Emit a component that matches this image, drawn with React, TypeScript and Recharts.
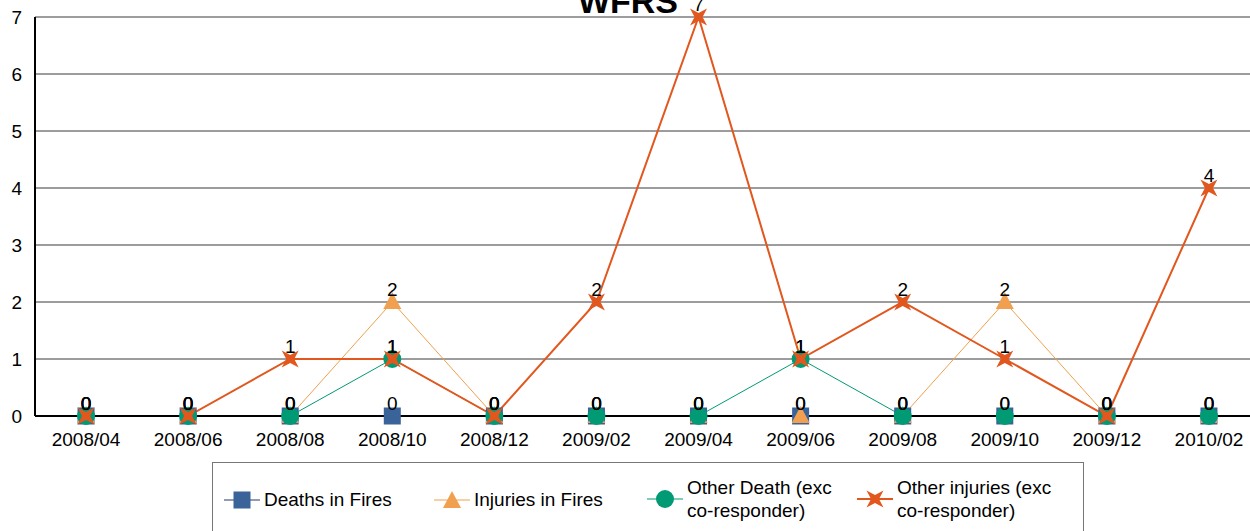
import { CartesianGrid, LabelList, Line, LineChart, XAxis, YAxis } from "recharts";

const months = [
  "2008/04", "2008/06", "2008/08", "2008/10", "2008/12", "2009/02",
  "2009/04", "2009/06", "2009/08", "2009/10", "2009/12", "2010/02",
];
const deathsInFires = [0, 0, 0, 0, 0, 0, 0, 0, 0, 0, 0, 0];
const injuriesInFires = [0, 0, 0, 2, 0, 0, 0, 0, 0, 2, 0, 0];
const otherDeath = [0, 0, 0, 1, 0, 0, 0, 1, 0, 0, 0, 0];
const otherInjuries = [0, 0, 1, 1, 0, 2, 7, 1, 2, 1, 0, 4];
const yTicks = [0, 1, 2, 3, 4, 5, 6, 7];

const seriesNames = [
  ["Deaths in Fires"],
  ["Injuries in Fires"],
  ["Other Death (exc", "co-responder)"],
  ["Other injuries (exc", "co-responder)"],
];

const data = months.map((month, i) => ({
  month,
  deaths: deathsInFires[i],
  injuries: injuriesInFires[i],
  otherDeath: otherDeath[i],
  otherInjuries: otherInjuries[i],
}));

const FONT = 'Arial, "Liberation Sans", sans-serif';
const BLUE = "#3A6399";
const BLUE_LINE = "#203A66";
const ORANGE = "#F0A04E";
const GREEN = "#009A74";
const RED = "#E2571E";

function starPath(cx: number, cy: number, R: number, r: number) {
  const pts: string[] = [];
  for (let k = 0; k < 8; k++) {
    const ang = (Math.PI / 4) * k - Math.PI / 2;
    const rad = k % 2 === 1 ? R : r;
    pts.push(`${cx + rad * Math.cos(ang)},${cy + rad * Math.sin(ang)}`);
  }
  return `M${pts.join("L")}Z`;
}

const square = (props: any) => (
  <rect key={`sq-${props.index}`} x={props.cx - 8.5} y={props.cy - 8.5} width={17} height={17} fill={BLUE} />
);
const triangle = (props: any) => (
  <path
    key={`tr-${props.index}`}
    d={`M${props.cx},${props.cy - 10}L${props.cx + 9},${props.cy + 7}L${props.cx - 9},${props.cy + 7}Z`}
    fill={ORANGE}
  />
);
const circle = (props: any) => <circle key={`ci-${props.index}`} cx={props.cx} cy={props.cy} r={9} fill={GREEN} />;
const star = (props: any) => (
  <path key={`st-${props.index}`} d={starPath(props.cx, props.cy, 12, 4)} fill={RED} />
);

const labelStyle = { fill: "#000", fontSize: 19, fontFamily: FONT };

function LegendMarker({ idx }: { idx: number }) {
  const color = [BLUE_LINE, ORANGE, GREEN, RED][idx];
  return (
    <svg width={36} height={24} style={{ display: "block" }}>
      <line x1={0} y1={12} x2={36} y2={12} stroke={color} strokeWidth={idx === 3 ? 2 : 1} />
      {idx === 0 && <rect x={9.5} y={3.5} width={17} height={17} fill={BLUE} />}
      {idx === 1 && <path d="M18,3L27,20L9,20Z" fill={ORANGE} />}
      {idx === 2 && <circle cx={18} cy={12} r={9} fill={GREEN} />}
      {idx === 3 && <path d={starPath(18, 12, 12, 4)} fill={RED} />}
    </svg>
  );
}

const legendX = [224, 434, 647, 857];

export default function App() {
  return (
    <div
      style={{
        position: "absolute",
        left: 0,
        top: 0,
        width: 1250,
        height: 531,
        overflow: "hidden",
        background: "#fff",
        fontFamily: FONT,
      }}
    >
      <LineChart width={1260} height={531} data={data} margin={{ top: 17, right: 0, bottom: 85, left: 0 }}>
        <CartesianGrid stroke="#3a3a3a" vertical={false} />
        <XAxis
          dataKey="month"
          scale="band"
          tickLine={false}
          tickMargin={11}
          height={30}
          axisLine={{ stroke: "#000", strokeWidth: 2 }}
          tick={{ fill: "#000", fontSize: 19, fontFamily: FONT }}
          interval={0}
        />
        <YAxis
          domain={[0, 7]}
          ticks={yTicks}
          width={35}
          tickLine={false}
          tickMargin={7}
          axisLine={{ stroke: "#000", strokeWidth: 2 }}
          tick={{ fill: "#000", fontSize: 19, fontFamily: FONT }}
        />
        <Line dataKey="deaths" stroke={BLUE_LINE} strokeWidth={2} dot={square} activeDot={false} isAnimationActive={false}>
          <LabelList dataKey="deaths" position="top" offset={6} style={labelStyle} />
        </Line>
        <Line dataKey="injuries" stroke={ORANGE} strokeWidth={1} dot={triangle} activeDot={false} isAnimationActive={false}>
          <LabelList dataKey="injuries" position="top" offset={6} style={labelStyle} />
        </Line>
        <Line dataKey="otherDeath" stroke={GREEN} strokeWidth={1} dot={circle} activeDot={false} isAnimationActive={false}>
          <LabelList dataKey="otherDeath" position="top" offset={6} style={labelStyle} />
        </Line>
        <Line dataKey="otherInjuries" stroke={RED} strokeWidth={2} dot={star} activeDot={false} isAnimationActive={false}>
          <LabelList dataKey="otherInjuries" position="top" offset={6} style={labelStyle} />
        </Line>
      </LineChart>
      <svg width={1250} height={40} style={{ position: "absolute", left: 0, top: 0, pointerEvents: "none" }}>
        <text x={628} y={13} textAnchor="middle" fontSize={34} fontWeight="bold" fontFamily={FONT} fill="#000">
          WFRS
        </text>
      </svg>
      <div
        style={{
          position: "absolute",
          left: 212,
          top: 462,
          width: 872,
          height: 90,
          border: "1px solid #777",
          boxSizing: "border-box",
        }}
      />
      {seriesNames.map((lines, idx) => (
        <div
          key={idx}
          style={{
            position: "absolute",
            left: legendX[idx],
            top: 499 - (lines.length * 23) / 2,
            display: "flex",
            alignItems: "center",
            fontSize: 19,
            lineHeight: "23px",
            color: "#000",
          }}
        >
          <LegendMarker idx={idx} />
          <div style={{ marginLeft: 4 }}>
            {lines.map((l) => (
              <div key={l} style={{ whiteSpace: "nowrap" }}>
                {l}
              </div>
            ))}
          </div>
        </div>
      ))}
    </div>
  );
}
